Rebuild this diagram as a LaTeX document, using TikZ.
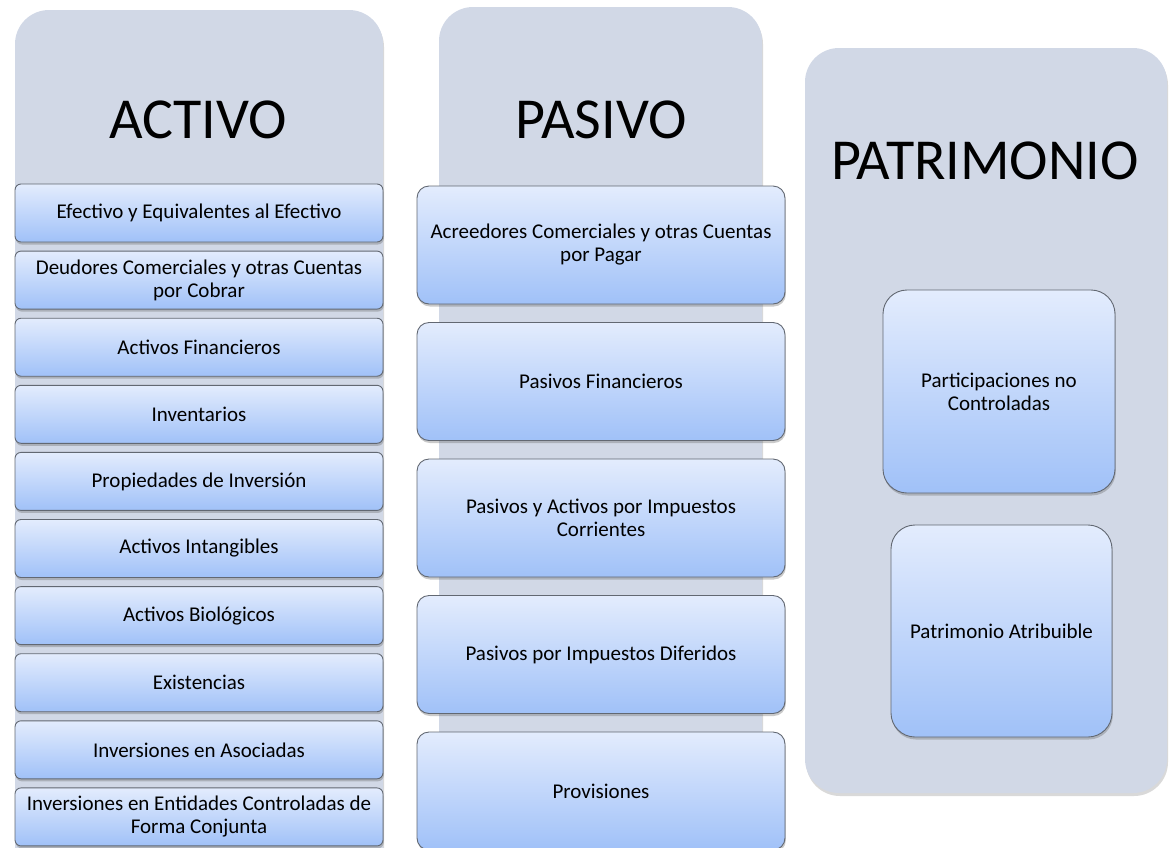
\documentclass[tikz,border=0pt]{standalone}
\usepackage{fontspec}
\setmainfont{Carlito}
\usepackage{tikz}
\usetikzlibrary{positioning,shadows}
\definecolor{balpanelfill}{RGB}{209,216,230}
\definecolor{balitemtop}{RGB}{227,236,253}
\definecolor{balitembottom}{RGB}{160,193,248}
\definecolor{balborder}{RGB}{98,104,114}
\tikzset{
  balpanel/.style={
    rectangle,
    rounded corners=34pt,
    fill=balpanelfill,
    inner sep=0pt,
    outer sep=0pt,
    drop shadow={shadow xshift=1pt,shadow yshift=-3pt,opacity=0.25,fill=black!60}
  },
  baltitle/.style={font=\fontsize{58}{60}\selectfont,inner sep=0pt},
  balitem/.style={
    rectangle,
    draw=balborder,
    line width=0.9pt,
    top color=balitemtop,
    bottom color=balitembottom,
    align=center,
    inner sep=0pt,
    outer sep=0pt,
    font=\fontsize{21}{23}\selectfont,
    drop shadow={shadow xshift=0.8pt,shadow yshift=-2.5pt,opacity=0.35,fill=black!60}
  },
  balactivo/.style={balitem,rounded corners=6pt,
                    minimum width=368pt,minimum height=58pt},
  balpasivo/.style={balitem,rounded corners=12pt,
                    minimum width=368pt,minimum height=118pt},
  balpatrim/.style={balitem,rounded corners=24pt}
}
\begin{document}
\begin{tikzpicture}[x=1pt,y=-1pt]
  \useasboundingbox (0,0) rectangle (1171,847);

  % columnas de fondo
  \node[balpanel,minimum width=368pt,minimum height=890pt] (activo) at (199,455) {};
  \node[balpanel,minimum width=323pt,minimum height=893pt] (pasivo) at (600.5,453.5) {};
  \node[balpanel,minimum width=362pt,minimum height=745pt] (patrimonio) at (986,420.5) {};

  \node[baltitle] (activotit) at (198,120) {ACTIVO};
  \node[baltitle] (pasivotit) at (601,120) {PASIVO};
  \node[baltitle] (patrimtit) at (985,161) {PATRIMONIO};

  % activo
  \node[balactivo] (act1) at (199,213) {Efectivo y Equivalentes al Efectivo};
  \node[balactivo,below=9.1pt of act1] (act2)
    {Deudores Comerciales y otras Cuentas\\por Cobrar};
  \node[balactivo,below=9.1pt of act2] (act3) {Activos Financieros};
  \node[balactivo,below=9.1pt of act3] (act4) {Inventarios};
  \node[balactivo,below=9.1pt of act4] (act5) {Propiedades de Inversión};
  \node[balactivo,below=9.1pt of act5] (act6) {Activos Intangibles};
  \node[balactivo,below=9.1pt of act6] (act7) {Activos Biológicos};
  \node[balactivo,below=9.1pt of act7] (act8) {Existencias};
  \node[balactivo,below=9.1pt of act8] (act9) {Inversiones en Asociadas};
  \node[balactivo,below=9.1pt of act9] (act10)
    {Inversiones en Entidades Controladas de\\Forma Conjunta};

  % pasivo
  \node[balpasivo] (pas1) at (601,245)
    {Acreedores Comerciales y otras Cuentas\\por Pagar};
  \node[balpasivo,below=18.5pt of pas1] (pas2) {Pasivos Financieros};
  \node[balpasivo,below=18.5pt of pas2] (pas3)
    {Pasivos y Activos por Impuestos\\Corrientes};
  \node[balpasivo,below=18.5pt of pas3] (pas4) {Pasivos por Impuestos Diferidos};
  \node[balpasivo,below=18.5pt of pas4] (pas5) {Provisiones};

  % patrimonio
  \node[balpatrim,minimum width=232pt,minimum height=203pt] (pat1) at (999,391.5)
    {Participaciones no\\Controladas};
  \node[balpatrim,minimum width=221pt,minimum height=212pt] (pat2) at (1001.5,631)
    {Patrimonio Atribuible};
\end{tikzpicture}
\end{document}
